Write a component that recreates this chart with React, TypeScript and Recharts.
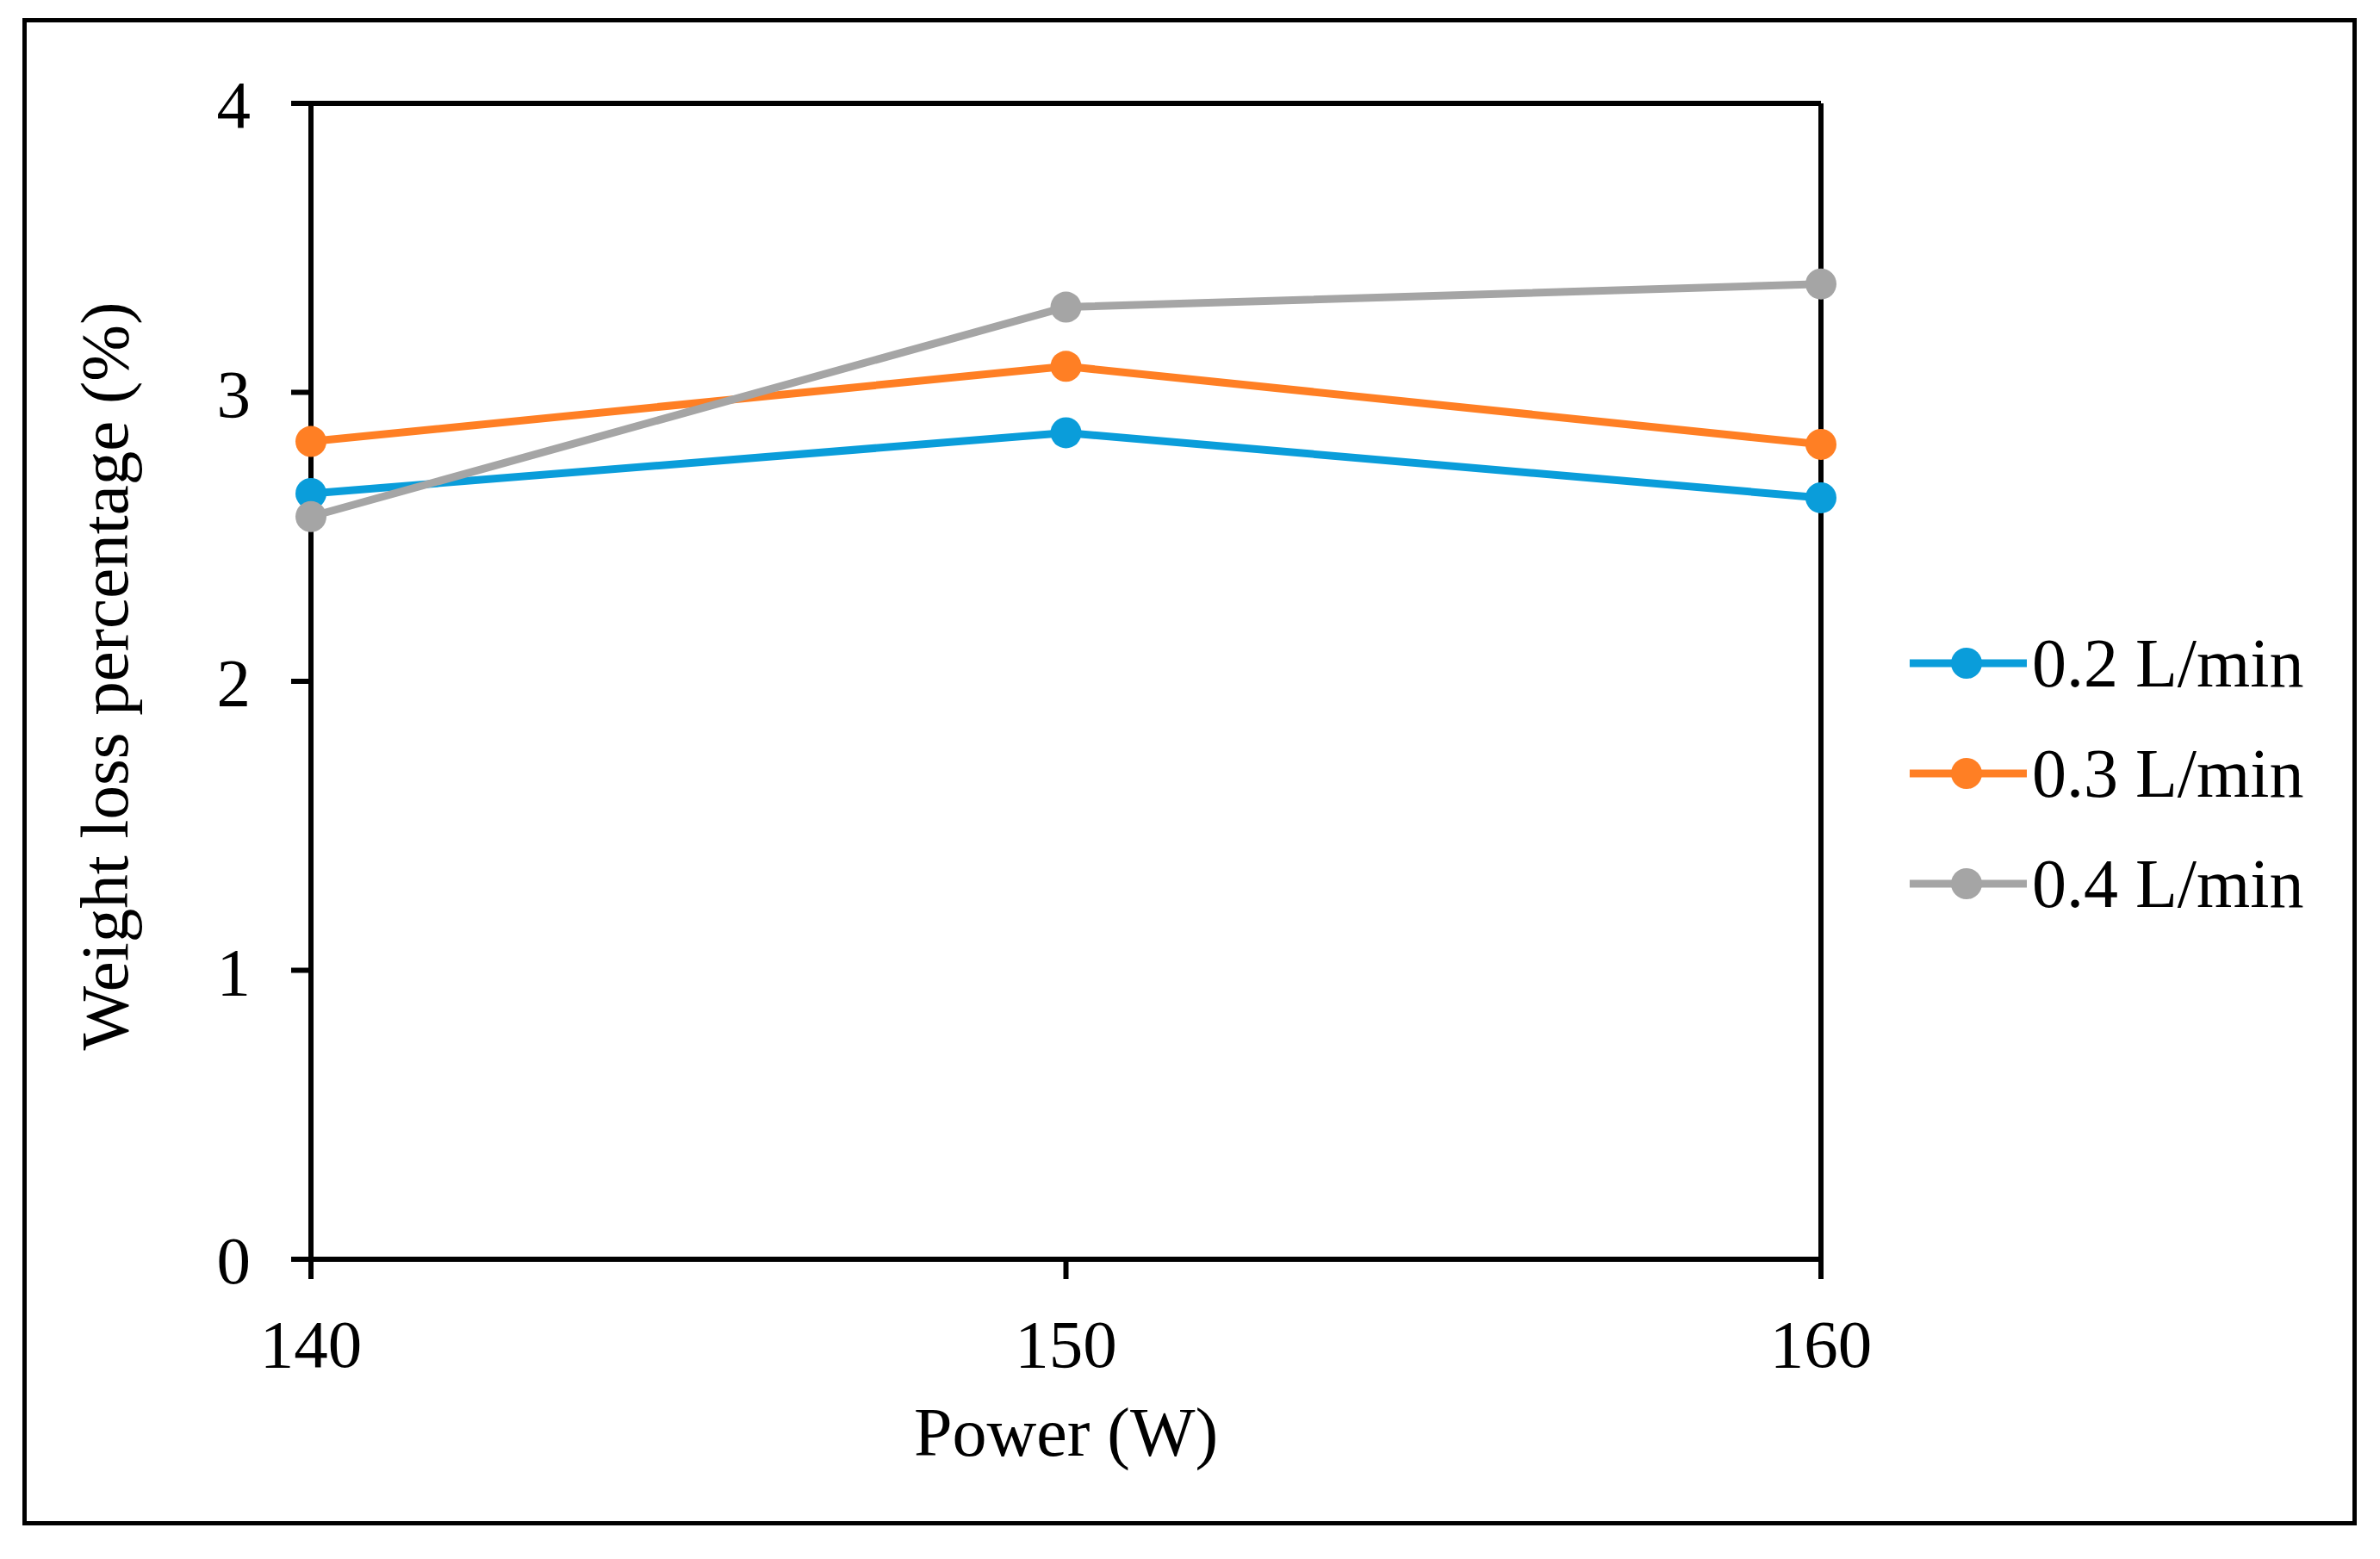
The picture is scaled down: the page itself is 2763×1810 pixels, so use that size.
import React from 'react';
import { LineChart, Line, XAxis, YAxis, ReferenceLine, Legend } from 'recharts';

const power = [140, 150, 160];
const flow02 = [2.65, 2.86, 2.635];
const flow03 = [2.83, 3.09, 2.82];
const flow04 = [2.57, 3.295, 3.375];
const seriesNames = ['0.2 L/min', '0.3 L/min', '0.4 L/min'];
const xTicks = [140, 150, 160];
const yTicks = [0, 1, 2, 3, 4];

const colors = ['#0a9dda', '#ff7f24', '#a5a5a5'];
const font = '"Liberation Serif", "Times New Roman", serif';
const keys = ['s02', 's03', 's04'];

const data = power.map((p, i) => ({
  power: p,
  s02: flow02[i],
  s03: flow03[i],
  s04: flow04[i],
}));

const tickStyle = { fill: '#000', fontSize: 79, fontFamily: font };
const axisLine = { stroke: '#000', strokeWidth: 6 };

function XLabel({ viewBox }: any) {
  const vb = viewBox || { x: 361, width: 1753 };
  const cx = vb.x + vb.width / 2;
  return (
    <text x={cx} y={1690} textAnchor="middle" fill="#000" fontSize={80} fontFamily={font}>
      Power (W)
    </text>
  );
}

function YLabel({ viewBox }: any) {
  const vb = viewBox || { y: 120, height: 1342 };
  const cx = 148;
  const cy = vb.y + vb.height / 2 - 6;
  return (
    <text
      x={cx}
      y={cy}
      transform={`rotate(-90 ${cx} ${cy})`}
      textAnchor="middle"
      fill="#000"
      fontSize={79}
      fontFamily={font}
    >
      Weight loss percentage (%)
    </text>
  );
}

function LegendBox({ payload }: any) {
  return (
    <div style={{ fontFamily: font, fontSize: 80, color: '#000' }}>
      {(payload || []).map((entry: any) => (
        <div key={entry.value} style={{ display: 'flex', alignItems: 'center', height: 128 }}>
          <svg width={138} height={44} style={{ marginRight: 4 }}>
            <line x1={0} y1={22} x2={136} y2={22} stroke={entry.color} strokeWidth={9} />
            <circle cx={66} cy={22} r={18} fill={entry.color} />
          </svg>
          <span style={{ lineHeight: '128px', whiteSpace: 'nowrap' }}>{entry.value}</span>
        </div>
      ))}
    </div>
  );
}

export default function App() {
  return (
    <div style={{ position: 'absolute', left: 0, top: 0, width: 2763, height: 1810, background: '#fff' }}>
      <LineChart
        width={2763}
        height={1810}
        data={data}
        margin={{ top: 120, right: 649, bottom: 0, left: 0 }}
      >
        <XAxis
          dataKey="power"
          type="number"
          domain={[140, 160]}
          ticks={xTicks}
          height={348}
          tickSize={23}
          tickMargin={46}
          axisLine={axisLine}
          tickLine={axisLine}
          tick={tickStyle}
          label={<XLabel />}
        />
        <YAxis
          domain={[0, 4]}
          ticks={yTicks}
          width={361}
          tickSize={23}
          tickMargin={47}
          axisLine={axisLine}
          tickLine={axisLine}
          tick={tickStyle}
          label={<YLabel />}
        />
        <ReferenceLine y={4} stroke="#000" strokeWidth={6} />
        <ReferenceLine x={160} stroke="#000" strokeWidth={6} />
        {keys.map((k, i) => (
          <Line
            key={k}
            dataKey={k}
            name={seriesNames[i]}
            stroke={colors[i]}
            strokeWidth={9}
            dot={{ r: 18, fill: colors[i], stroke: colors[i], strokeWidth: 0 }}
            activeDot={false}
            isAnimationActive={false}
          />
        ))}
        <Legend
          layout="horizontal"
          align="center"
          verticalAlign="middle"
          content={<LegendBox />}
          wrapperStyle={{ left: 2217, top: 706, width: 540 }}
        />
      </LineChart>
      <div
        style={{
          position: 'absolute',
          left: 26,
          top: 21,
          width: 2710,
          height: 1750,
          border: '5px solid #000',
          boxSizing: 'border-box',
          pointerEvents: 'none',
        }}
      />
    </div>
  );
}
